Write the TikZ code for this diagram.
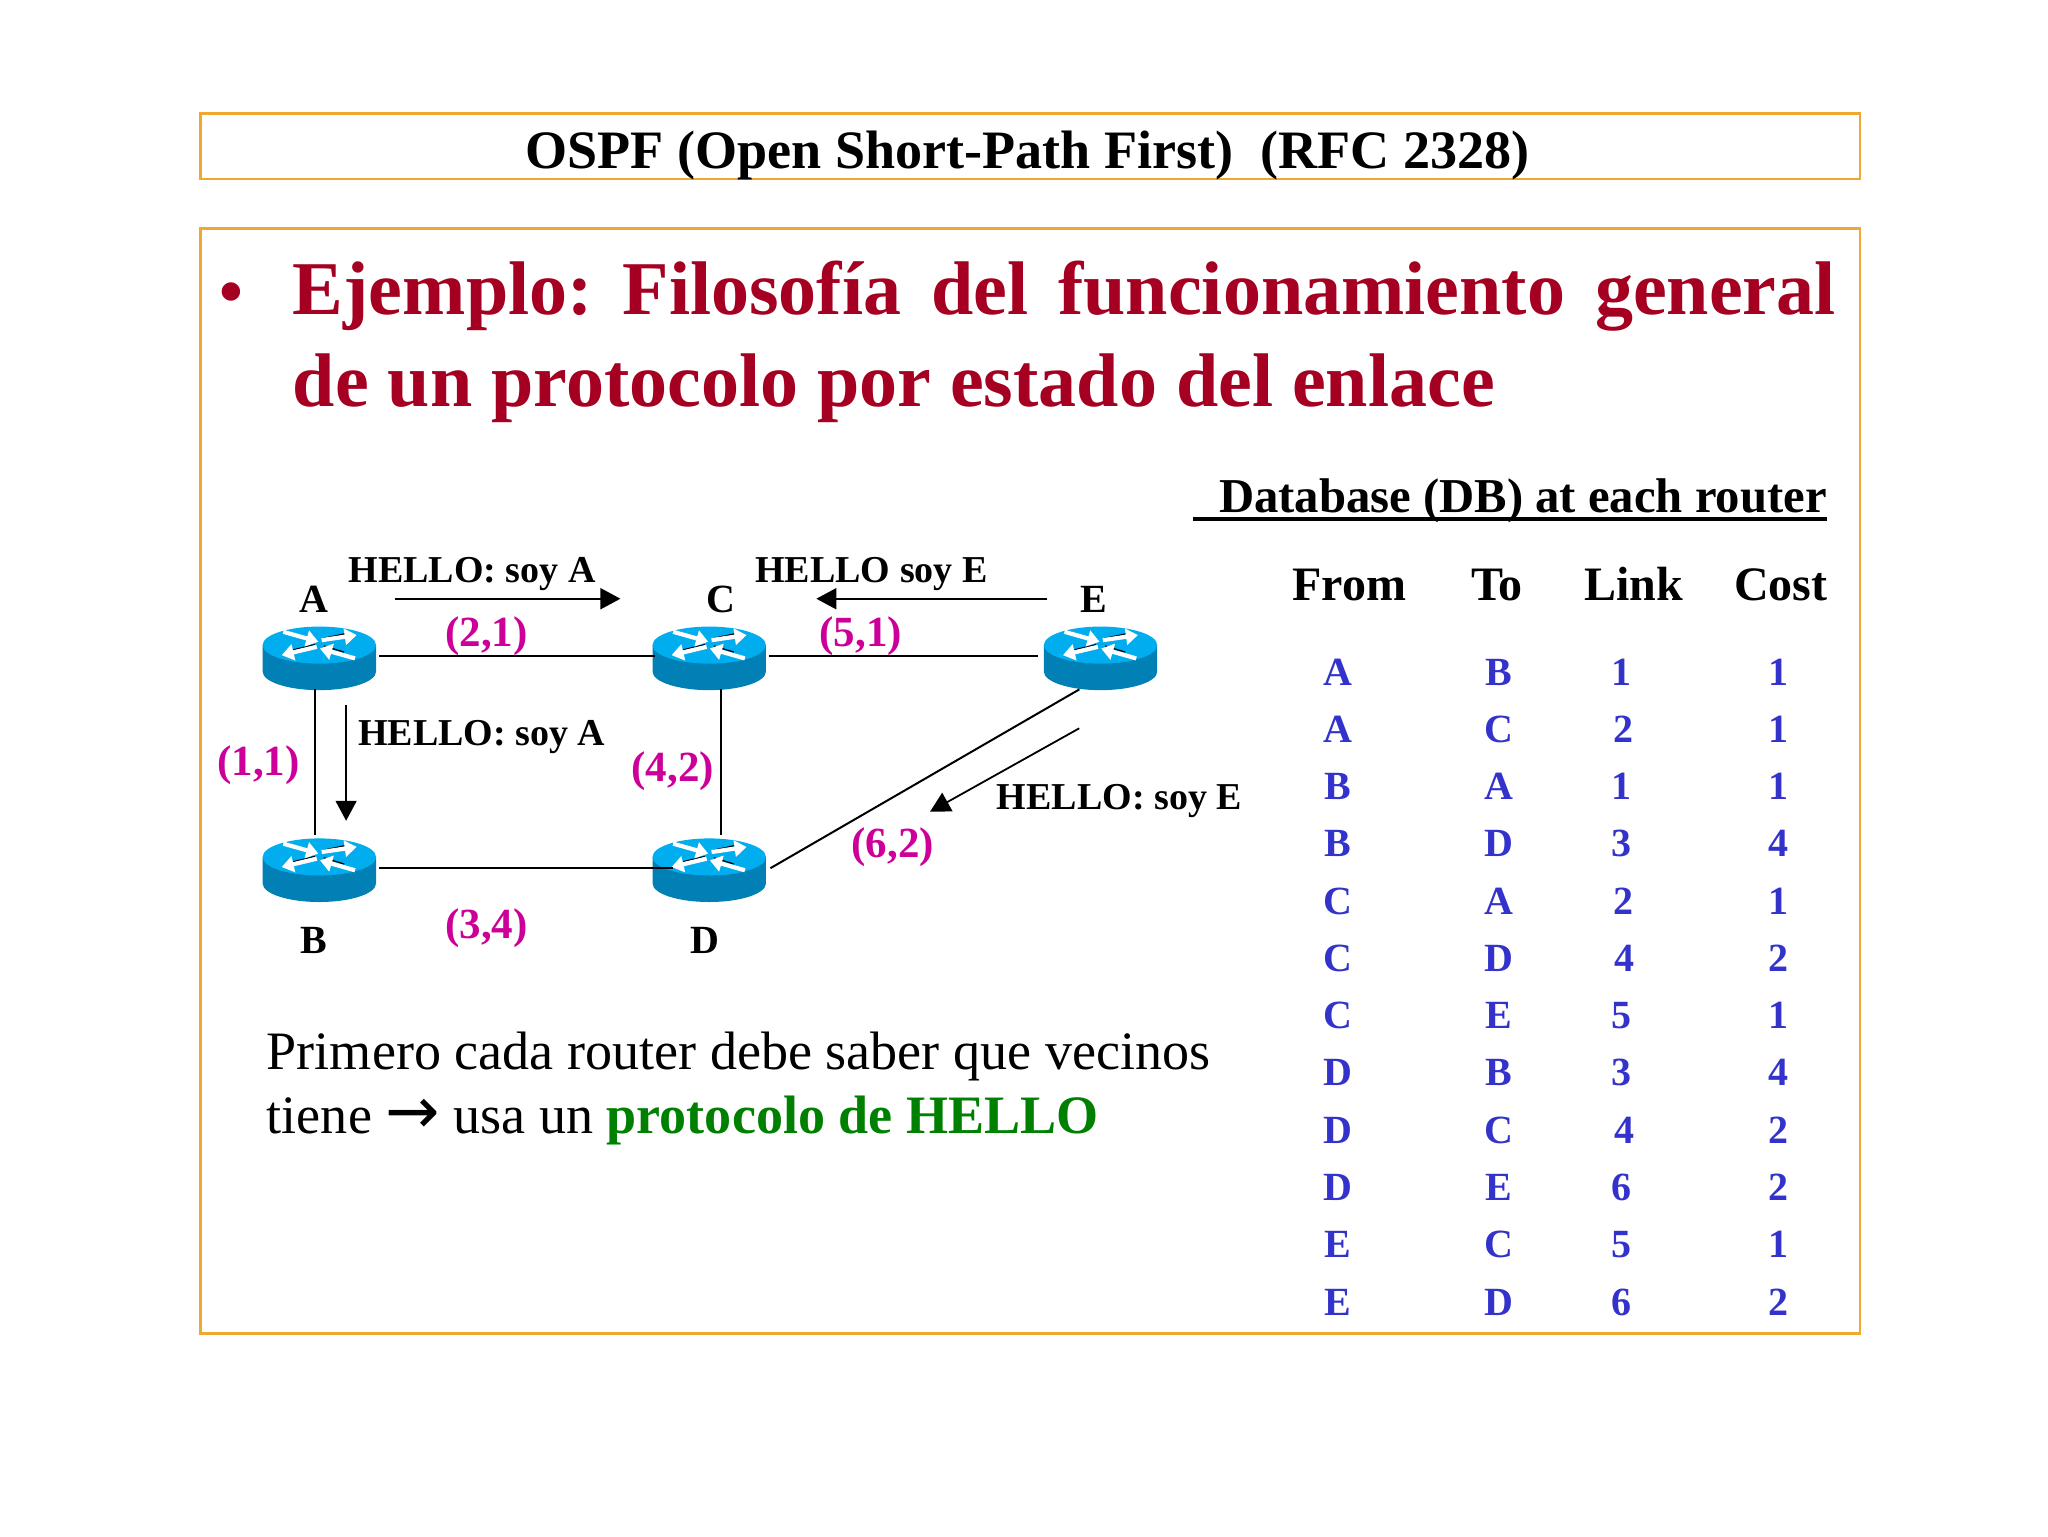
\documentclass[tikz,border=0pt]{standalone}
\usepackage{fontspec}
\setmainfont{Liberation Serif}
\newfontfamily\dejavu{DejaVu Sans}
\usetikzlibrary{arrows.meta,calc}
\definecolor{frameor}{RGB}{240,168,48}
\definecolor{headred}{RGB}{165,0,33}
\definecolor{costmag}{RGB}{204,0,153}
\definecolor{tblblue}{RGB}{51,51,204}
\definecolor{hellogreen}{RGB}{0,128,0}
\definecolor{rtop}{RGB}{0,174,239}
\definecolor{rbody}{RGB}{0,128,181}
\newcommand\fsz[1]{\fontsize{#1}{#1}\selectfont}
\tikzset{
  frame/.style={draw=frameor,line width=1.2pt},
  lbl/.style={inner sep=0pt,anchor=base west,font=\fsz{19}\bfseries},
  rname/.style={inner sep=0pt,anchor=base,font=\fsz{20}\bfseries},
  cost/.style={inner sep=0pt,anchor=base,font=\fsz{21.5}\bfseries,text=costmag},
  thead/.style={inner sep=0pt,anchor=base,font=\fsz{24}\bfseries},
  tcell/.style={inner sep=0pt,anchor=base,font=\fsz{20}\bfseries,text=tblblue},
  routerbox/.style={inner sep=0pt,minimum width=59.4pt,minimum height=32.65pt},
  link/.style={black,line width=1pt},
  msg/.style={black,line width=0.9pt,-{Triangle[length=10pt,width=10.5pt]}},
  rarrow/.style={white,line width=2.1pt,-{Triangle[length=6pt,width=8pt]}},
  rshadow/.style={black,line width=0.6pt},
}
\newcommand\router[3]{%
  \begin{scope}[shift={(#2,#3)}]
    \fill[rbody] (-43.4,-8.6) -- (-43.4,11.7) arc[start angle=180,end angle=360,x radius=43.4,y radius=-14.2] -- (43.4,-8.6) -- cycle;
    \fill[rtop] (0,-8.6) ellipse[x radius=43.4,y radius=14.2];
    \begin{scope}[shift={(0,-8.6)}]
      \draw[rshadow] (-25,-10.6) -- (-3,-3.4);
      \draw[rshadow] (3,-5.2) -- (24,-9.6);
      \draw[rshadow] (-3.4,-0.4) -- (-20,3.6);
      \draw[rshadow] (3.4,0.6) -- (19,5.4);
      \draw[rarrow] (-27.6,-10.2) -- (-0.8,-2.6);
      \draw[rarrow] (1.8,-3.8) -- (28.6,-7.7);
      \draw[rarrow] (-2,1.3) -- (-28.8,7.7);
      \draw[rarrow] (27.3,10.2) -- (0.5,2.6);
    \end{scope}
  \end{scope}
  \node[routerbox] (#1) at (#2,#3) {};%
}
\begin{document}
\begin{tikzpicture}[x=0.65306pt,y=-0.65306pt]
\useasboundingbox (0,0) rectangle (1568,1176);
\fill[white] (0,0) rectangle (1568,1176);
\draw[frame] (153.5,87) rectangle (1424,137);
\draw[frame] (153.5,175) rectangle (1424,1021);
\node[inner sep=0pt,anchor=base west,font=\fsz{27.05}\bfseries] (title) at (402,128.8) {OSPF (Open Short-Path First)\ \ (RFC 2328)};
\node[inner sep=0pt,anchor=base west,font=\fsz{34}\bfseries,text=headred] (bullet) at (168,241) {•};
\node[inner sep=0pt,anchor=base west,font=\fsz{38}\bfseries,text=headred] (head1) at (224,241) {\hbox to 771.3pt{Ejemplo:\hfil Filosofía\hfil del\hfil funcionamiento\hfil general}};
\node[inner sep=0pt,anchor=base west,font=\fsz{38}\bfseries,text=headred] (head2) at (224,311) {de un protocolo por estado del enlace};
% database
\node[inner sep=0pt,anchor=base west,font=\fsz{24.35}\bfseries] (dbtitle) at (933,392) {Database (DB) at each router};
\coordinate (ula) at (913,397.5);
\coordinate (ulb) at (1399,397.5);
\draw[black,line width=1.8pt] (ula) -- (ulb);
\node[thead] (hfrom) at (1033,460) {From};
\node[thead] (hto) at (1146,460) {To};
\node[thead] (hlink) at (1251,460) {Link};
\node[thead] (hcost) at (1363.5,460) {Cost};
\foreach \i/\a/\b/\c/\cx/\d in {0/A/B/1/1241.7/1,1/A/C/2/1243/1,2/B/A/1/1241.7/1,3/B/D/3/1241.7/4,4/C/A/2/1243/1,5/C/D/4/1243.7/2,6/C/E/5/1241.7/1,7/D/B/3/1241.7/4,8/D/C/4/1243.7/2,9/D/E/6/1241.7/2,10/E/C/5/1241.7/1,11/E/D/6/1241.7/2}{
  \pgfmathsetmacro\yy{524.5+43.85*\i}
  \node[tcell] (ra\i) at (1024.6,\yy) {\a};
  \node[tcell] (rb\i) at (1147.3,\yy) {\b};
  \node[tcell] (rc\i) at (\cx,\yy) {\c};
  \node[tcell] (rd\i) at (1361.6,\yy) {\d};
}
% routers
\router{A}{244.5}{502.5}
\router{C}{543}{502.5}
\router{E}{842.6}{502.5}
\router{B}{244.5}{664.7}
\router{D}{543}{664.7}
% links
\draw[link] (A.east) -- ([xshift=3pt]C.west);
\draw[link] (C.east) -- ([xshift=-1.5pt]E.west);
\draw[link] (B.east) -- ([xshift=12pt]D.west);
\draw[link] ([xshift=-2.4pt]A.south) -- ([xshift=-2.4pt]B.north);
\draw[link] ([xshift=6.1pt]C.south) -- ([xshift=6.1pt]D.north);
\draw[link] ([xshift=-10.6pt]E.south) -- ([xshift=0.7pt]D.east);
% messages
\coordinate (m1a) at (302.5,458.4); \coordinate (m1b) at (475,458.4);
\coordinate (m2a) at (801.8,458.4); \coordinate (m2b) at (625,458.4);
\coordinate (m3a) at (265,540); \coordinate (m3b) at (265,628.4);
\coordinate (m4a) at (826.3,557.6); \coordinate (m4b) at (712,621.5);
\draw[msg] (m1a) -- (m1b);
\draw[msg] (m2a) -- (m2b);
\draw[msg] (m3a) -- (m3b);
\draw[msg] (m4a) -- (m4b);
% labels
\node[lbl] (l1) at (266.5,446) {HELLO: soy A};
\node[lbl] (l2) at (578,446) {HELLO soy E};
\node[lbl] (l3) at (274,570.5) {HELLO: soy A};
\node[lbl] (l4) at (763,620) {HELLO: soy E};
\node[rname] (nA) at (240,469) {A};
\node[rname] (nC) at (552,469) {C};
\node[rname] (nE) at (837.5,469) {E};
\node[rname] (nB) at (240,730) {B};
\node[rname] (nD) at (540,730) {D};
\node[cost] (c21) at (372.5,495) {(2,1)};
\node[cost] (c51) at (659,495) {(5,1)};
\node[cost] (c11) at (198,594) {(1,1)};
\node[cost] (c42) at (515,598) {(4,2)};
\node[cost] (c62) at (683.5,656.5) {(6,2)};
\node[cost] (c34) at (372.5,718.5) {(3,4)};
% body
\node[inner sep=0pt,anchor=base west,font=\fsz{27.05}] (body1) at (204,818.5) {Primero cada router debe saber que vecinos};
\node[inner sep=0pt,anchor=base west,font=\fsz{27.05}] (body2) at (204,868) {tiene {\dejavu\fsz{32.5}→} usa un {\bfseries\color{hellogreen}protocolo de HELLO}};
\end{tikzpicture}
\end{document}
